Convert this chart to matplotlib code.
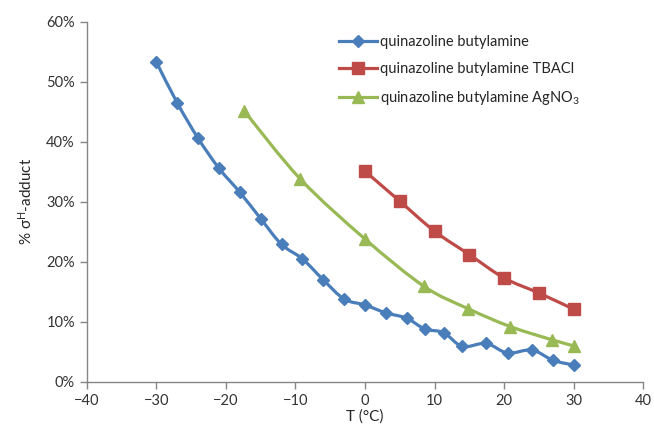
"""
plot.py
sigma-H adduct vs temperature (quinazoline / butylamine)
"""

import numpy as np
import matplotlib
matplotlib.use("Agg")

import matplotlib.pyplot as plt
from matplotlib.path import Path
from matplotlib.patches import PathPatch
from matplotlib.lines import Line2D
from matplotlib.ticker import PercentFormatter

# ── DATA ──────────────────────────────────────────────
T_BASE = [-30, -27, -24, -21, -18, -15, -12, -9, -6, -3,
          0, 3, 6, 8.6, 11.3, 14, 17.4, 20.5, 24, 27, 30]
ADD_BASE = [53.3, 46.5, 40.6, 35.6, 31.6, 27.2, 22.9, 20.5, 17.0, 13.8,
            12.8, 11.5, 10.6, 8.8, 8.2, 5.9, 6.4, 4.8, 5.3, 3.6, 2.8]

T_TBACL = [0, 5, 10, 15, 20, 25, 30]
ADD_TBACL = [35.1, 30.1, 25.1, 21.2, 17.3, 14.8, 12.1]

T_AGNO3 = [-17.4, -9.3, 0, 8.5, 14.8, 20.9, 26.9, 30]
ADD_AGNO3 = [45.2, 33.8, 23.8, 15.9, 12.2, 9.2, 7.0, 6.0]

LABELS = ["quinazoline butylamine",
          "quinazoline butylamine TBACl",
          "quinazoline butylamine AgNO$_3$"]

BLUE = "#4A7EBB"
RED = "#BE4B48"
GREEN = "#98B954"

plt.rcParams["font.family"] = ["Lato", "DejaVu Sans"]
plt.rcParams["mathtext.fontset"] = "custom"
plt.rcParams["mathtext.rm"] = "Lato"
plt.rcParams["mathtext.it"] = "Lato:italic"


# ── SMOOTH LINE (excel style bezier) ──────────────────
def smooth_path(x, y):
    p = np.column_stack([x, y]).astype(float)
    verts = [p[0]]
    codes = [Path.MOVETO]
    n = len(p)
    for i in range(n - 1):
        p0 = p[i - 1] if i > 0 else p[i]
        p3 = p[i + 2] if i + 2 < n else p[i + 1]
        c1 = p[i] + (p[i + 1] - p0) / 6.0
        c2 = p[i + 1] - (p3 - p[i]) / 6.0
        verts += [c1, c2, p[i + 1]]
        codes += [Path.CURVE4] * 3
    return Path(verts, codes)


def draw_series(ax, x, y, color, marker, ms):
    ax.add_patch(PathPatch(smooth_path(x, y), facecolor="none",
                           edgecolor=color, lw=2.3, zorder=2))
    ax.plot(x, y, ls="none", marker=marker, ms=ms, color=color,
            markeredgecolor=color, zorder=3)


fig = plt.figure(figsize=(6.54, 4.44), dpi=100)
ax = fig.add_axes([0.1326, 0.140, 0.851, 0.811])

draw_series(ax, T_BASE, ADD_BASE, BLUE, "D", 6)
draw_series(ax, T_TBACL, ADD_TBACL, RED, "s", 9)
draw_series(ax, T_AGNO3, ADD_AGNO3, GREEN, "^", 9)

ax.set_xlim(-40, 40)
ax.set_ylim(0, 60)
ax.set_xticks(np.arange(-40, 41, 10))
ax.set_yticks(np.arange(0, 61, 10))
ax.yaxis.set_major_formatter(PercentFormatter(decimals=0))

for s in ["top", "right"]:
    ax.spines[s].set_visible(False)
for s in ["left", "bottom"]:
    ax.spines[s].set_color("#868686")
    ax.spines[s].set_linewidth(1.0)
ax.tick_params(colors="#868686", labelcolor="#333333", labelsize=10.5,
               length=5, width=1.0)

ax.set_xlabel("T (°C)", fontsize=11, color="#262626", labelpad=1)
ax.set_ylabel("% σ$^{\\mathrm{H}}$-adduct", fontsize=11, color="#262626",
              labelpad=8)

handles = [
    Line2D([], [], color=BLUE, lw=2.3, marker="D", ms=6),
    Line2D([], [], color=RED, lw=2.3, marker="s", ms=9),
    Line2D([], [], color=GREEN, lw=2.3, marker="^", ms=9),
]
ax.legend(handles, LABELS, loc="upper left", bbox_to_anchor=(0.43, 1.0),
          frameon=False, fontsize=10.5, handlelength=2.6, handletextpad=0.2,
          labelspacing=0.9, labelcolor="#262626")

fig.savefig("out.png", dpi=100)
